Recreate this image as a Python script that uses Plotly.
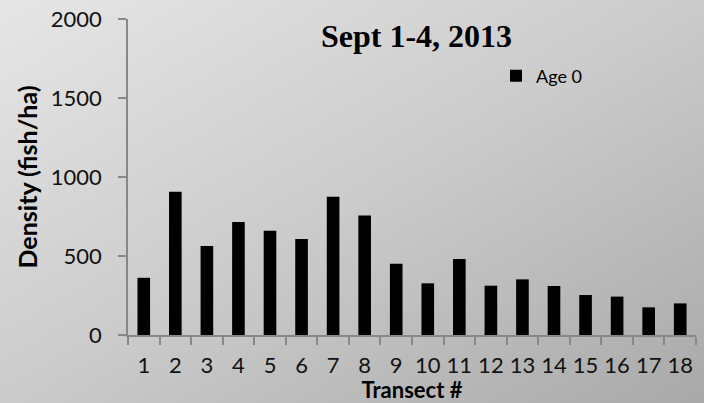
import base64
import plotly.graph_objects as go

transects = [str(i) for i in range(1, 19)]
age0_density = [362, 907, 563, 715, 660, 607, 875, 757, 451, 327, 481, 312, 352, 310, 253, 243, 175, 200]
y_ticks = [0, 500, 1000, 1500, 2000]

W, H = 704, 403
ML, MR, MT, MB = 128, 8, 19, 68
PW, PH = W - ML - MR, H - MT - MB

svg = (
    '<svg xmlns="http://www.w3.org/2000/svg" width="704" height="403">'
    '<defs><linearGradient id="g" x1="0" y1="0" x2="1" y2="1">'
    '<stop offset="0" stop-color="#e6e6e6"/>'
    '<stop offset="0.5" stop-color="#cbcbcb"/>'
    '<stop offset="1" stop-color="#a9a9a9"/>'
    '</linearGradient></defs>'
    '<rect width="704" height="403" fill="url(#g)"/></svg>'
)
bg_src = "data:image/svg+xml;base64," + base64.b64encode(svg.encode()).decode()

fig = go.Figure()
fig.add_trace(go.Bar(
    x=transects, y=age0_density, name="Age 0",
    marker=dict(color="#000000", line=dict(width=0)),
))

label_font = dict(family="Lato, Carlito, sans-serif", size=22, color="#111111")

fig.update_layout(
    width=W, height=H,
    margin=dict(l=ML, r=MR, t=MT, b=MB, autoexpand=False),
    paper_bgcolor="rgba(0,0,0,0)",
    plot_bgcolor="rgba(0,0,0,0)",
    bargap=0.6,
    showlegend=True,
    legend=dict(
        x=(496 - ML) / PW, y=1 - (76 - MT) / PH, xanchor="left", yanchor="middle",
        bgcolor="rgba(0,0,0,0)", borderwidth=0,
        font=dict(family="Lato, Carlito, sans-serif", size=18, color="#000000"),
    ),
    images=[dict(
        source=bg_src, xref="paper", yref="paper",
        x=-ML / PW, y=1 + MT / PH, sizex=W / PW, sizey=H / PH,
        xanchor="left", yanchor="top", sizing="stretch", layer="below",
    )],
    annotations=[dict(
        text="<b>Sept 1-4, 2013</b>", xref="paper", yref="paper",
        x=(416 - ML) / PW, y=1 - (36 - MT) / PH, xanchor="center", yanchor="middle",
        showarrow=False,
        font=dict(family="Liberation Serif, Times New Roman, serif", size=32, color="#000000"),
    )],
)

fig.update_xaxes(
    type="category", tickson="boundaries", ticks="outside", ticklen=8,
    tickcolor="#888888", tickwidth=1.5, showline=True, linecolor="#888888", linewidth=1.5,
    showgrid=False, tickfont=label_font, tickangle=0, ticklabelstandoff=10,
    title=dict(text="<b>Transect #</b>", font=dict(family="Lato, Carlito, sans-serif", size=22, color="#000000"), standoff=5),
)
fig.update_yaxes(
    range=[0, 2000], tickvals=y_ticks, ticks="outside", ticklen=8,
    tickcolor="#888888", tickwidth=1.5, showline=True, linecolor="#888888", linewidth=1.5,
    showgrid=False, zeroline=False, tickfont=label_font, ticklabelstandoff=12,
    title=dict(text="<b>Density (fish/ha)</b>", font=dict(family="Lato, Carlito, sans-serif", size=25, color="#000000"), standoff=6),
)

fig.write_html(
    "out.html",
    config={"displayModeBar": False},
    post_script="document.body.style.margin='0';document.body.style.padding='0';",
)
